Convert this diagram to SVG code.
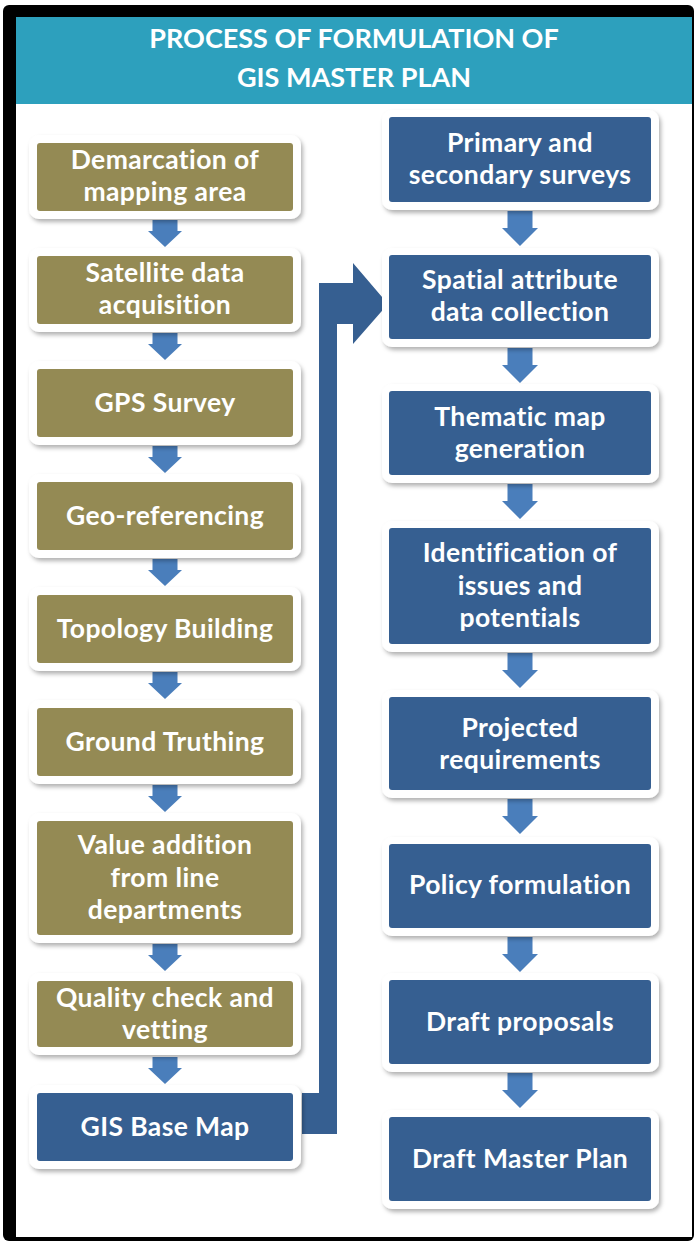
<svg xmlns="http://www.w3.org/2000/svg" width="694" height="1241" viewBox="0 0 694 1241">
<defs>
<style>
.frame{fill:#000}
.paper{fill:#fff}
.head{fill:#2DA0BD}
.htxt{font-family:Lato,"Liberation Sans",sans-serif;font-weight:700;font-size:27px;fill:#fff;text-anchor:middle}
.wrap{fill:#fff;filter:url(#sh)}
.olive{fill:#948A54}
.blue{fill:#365F91}
.txt{font-family:Lato,"Liberation Sans",sans-serif;font-weight:700;font-size:26.5px;letter-spacing:0.4px;fill:#fff;text-anchor:middle}
.arr{fill:#4A7EBB}
.big{fill:#365F91}
</style>
<filter id="sh" x="-10%" y="-20%" width="125%" height="150%">
<feDropShadow dx="2" dy="3" stdDeviation="2" flood-color="#000" flood-opacity="0.3"/>
</filter>
</defs>
<rect class="frame" x="3" y="5" width="691" height="1236" rx="6"/>
<rect class="paper" x="16" y="17" width="676" height="1220"/>
<rect class="head" x="16" y="17" width="676" height="87"/>
<g id="title">
<text class="htxt" x="354" y="48">PROCESS OF FORMULATION OF</text>
<text class="htxt" x="354" y="87">GIS MASTER PLAN</text>
</g>

<g id="connectors">
<polygon class="arr" points="152.5,220 177.5,220 177.5,231 182,231 165,247 148,231 152.5,231"/>
<polygon class="arr" points="152.5,333 177.5,333 177.5,344 182,344 165,360 148,344 152.5,344"/>
<polygon class="arr" points="152.5,446 177.5,446 177.5,457 182,457 165,473 148,457 152.5,457"/>
<polygon class="arr" points="152.5,559 177.5,559 177.5,570 182,570 165,586 148,570 152.5,570"/>
<polygon class="arr" points="152.5,672 177.5,672 177.5,683 182,683 165,699 148,683 152.5,683"/>
<polygon class="arr" points="152.5,785 177.5,785 177.5,796 182,796 165,812 148,796 152.5,796"/>
<polygon class="arr" points="152.5,944 177.5,944 177.5,955 182,955 165,971 148,955 152.5,955"/>
<polygon class="arr" points="152.5,1057 177.5,1057 177.5,1068 182,1068 165,1084 148,1068 152.5,1068"/>

<polygon class="arr" points="507.5,211 532.5,211 532.5,228 538,228 520,246 502,228 507.5,228"/>
<polygon class="arr" points="507.5,348 532.5,348 532.5,365 538,365 520,383 502,365 507.5,365"/>
<polygon class="arr" points="507.5,484 532.5,484 532.5,501 538,501 520,519 502,501 507.5,501"/>
<polygon class="arr" points="507.5,653 532.5,653 532.5,670 538,670 520,688 502,670 507.5,670"/>
<polygon class="arr" points="507.5,799 532.5,799 532.5,816 538,816 520,834 502,816 507.5,816"/>
<polygon class="arr" points="507.5,937 532.5,937 532.5,954 538,954 520,972 502,954 507.5,954"/>
<polygon class="arr" points="507.5,1073 532.5,1073 532.5,1090 538,1090 520,1108 502,1090 507.5,1090"/>

<polygon class="big" points="302,1093 319,1093 319,283 353,283 353,263 388,304 353,344 353,324 337,324 337,1134 302,1134"/>
</g>

<g id="n1"><rect class="wrap" x="29" y="135" width="272" height="84" rx="10"/><rect class="olive" x="37" y="143" width="256" height="68" rx="3"/>
<text class="txt" x="165" y="169">Demarcation of</text><text class="txt" x="165" y="201">mapping area</text></g>
<g id="n2"><rect class="wrap" x="29" y="248" width="272" height="84" rx="10"/><rect class="olive" x="37" y="256" width="256" height="68" rx="3"/>
<text class="txt" x="165" y="282">Satellite data</text><text class="txt" x="165" y="314">acquisition</text></g>
<g id="n3"><rect class="wrap" x="29" y="361" width="272" height="84" rx="10"/><rect class="olive" x="37" y="369" width="256" height="68" rx="3"/>
<text class="txt" x="165" y="412">GPS Survey</text></g>
<g id="n4"><rect class="wrap" x="29" y="474" width="272" height="84" rx="10"/><rect class="olive" x="37" y="482" width="256" height="68" rx="3"/>
<text class="txt" x="165" y="525">Geo-referencing</text></g>
<g id="n5"><rect class="wrap" x="29" y="587" width="272" height="84" rx="10"/><rect class="olive" x="37" y="595" width="256" height="68" rx="3"/>
<text class="txt" x="165" y="638">Topology Building</text></g>
<g id="n6"><rect class="wrap" x="29" y="700" width="272" height="84" rx="10"/><rect class="olive" x="37" y="708" width="256" height="68" rx="3"/>
<text class="txt" x="165" y="751">Ground Truthing</text></g>
<g id="n7"><rect class="wrap" x="29" y="813" width="272" height="130" rx="10"/><rect class="olive" x="37" y="821" width="256" height="114" rx="3"/>
<text class="txt" x="165" y="854">Value addition</text><text class="txt" x="165" y="887">from line</text><text class="txt" x="165" y="919">departments</text></g>
<g id="n8"><rect class="wrap" x="29" y="973" width="272" height="82" rx="10"/><rect class="olive" x="37" y="981" width="256" height="66" rx="3"/>
<text class="txt" x="165" y="1007">Quality check and</text><text class="txt" x="165" y="1039">vetting</text></g>
<g id="n9"><rect class="wrap" x="29" y="1085" width="272" height="84" rx="10"/><rect class="blue" x="37" y="1093" width="256" height="68" rx="3"/>
<text class="txt" x="165" y="1136">GIS Base Map</text></g>

<g id="r1"><rect class="wrap" x="382" y="110" width="277" height="100" rx="10"/><rect class="blue" x="389" y="117" width="262" height="85" rx="3"/>
<text class="txt" x="520" y="152">Primary and</text><text class="txt" x="520" y="184">secondary surveys</text></g>
<g id="r2"><rect class="wrap" x="382" y="248" width="277" height="99" rx="10"/><rect class="blue" x="389" y="255" width="262" height="84" rx="3"/>
<text class="txt" x="520" y="289">Spatial attribute</text><text class="txt" x="520" y="321">data collection</text></g>
<g id="r3"><rect class="wrap" x="382" y="384" width="277" height="99" rx="10"/><rect class="blue" x="389" y="391" width="262" height="84" rx="3"/>
<text class="txt" x="520" y="426">Thematic map</text><text class="txt" x="520" y="458">generation</text></g>
<g id="r4"><rect class="wrap" x="382" y="521" width="277" height="131" rx="10"/><rect class="blue" x="389" y="528" width="262" height="116" rx="3"/>
<text class="txt" x="520" y="562">Identification of</text><text class="txt" x="520" y="595">issues and</text><text class="txt" x="520" y="627">potentials</text></g>
<g id="r5"><rect class="wrap" x="382" y="690" width="277" height="108" rx="10"/><rect class="blue" x="389" y="697" width="262" height="93" rx="3"/>
<text class="txt" x="520" y="737">Projected</text><text class="txt" x="520" y="769">requirements</text></g>
<g id="r6"><rect class="wrap" x="382" y="837" width="277" height="99" rx="10"/><rect class="blue" x="389" y="844" width="262" height="84" rx="3"/>
<text class="txt" x="520" y="894">Policy formulation</text></g>
<g id="r7"><rect class="wrap" x="382" y="973" width="277" height="99" rx="10"/><rect class="blue" x="389" y="980" width="262" height="84" rx="3"/>
<text class="txt" x="520" y="1031">Draft proposals</text></g>
<g id="r8"><rect class="wrap" x="382" y="1110" width="277" height="99" rx="10"/><rect class="blue" x="389" y="1117" width="262" height="84" rx="3"/>
<text class="txt" x="520" y="1168">Draft Master Plan</text></g>
</svg>
